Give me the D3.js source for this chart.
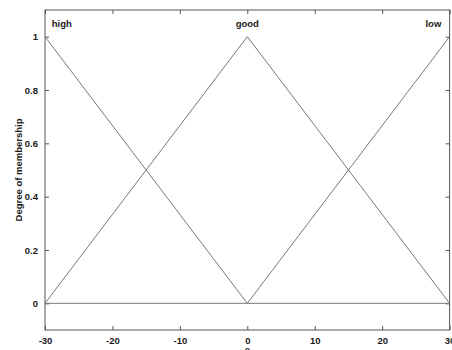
<!DOCTYPE html>
<html><head><meta charset="utf-8">
<script src="https://cdn.jsdelivr.net/npm/d3@7"></script>
<style>body{margin:0;background:#fff}svg{display:block}</style>
</head><body>
<script>
const xTicks = [-30, -20, -10, 0, 10, 20, 30];
const yTicks = [0, 0.2, 0.4, 0.6, 0.8, 1];
const setNames = ["high", "good", "low"];
const highX = [-30, 0, 30], highY = [1, 0, 0];
const goodX = [-30, 0, 30], goodY = [0, 1, 0];
const lowX = [-30, 0, 30], lowY = [0, 0, 1];
const labelX = [-27.5, 0, 27.6];
const xLabel = "e";
const yLabel = "Degree of membership";

const W = 452, H = 350;
const m = {l: 45, r: 2.4, t: 10, b: 20};
const svg = d3.select("body").append("svg").attr("width", W).attr("height", H);
const x = d3.scaleLinear().domain([-30, 30]).range([m.l, W - m.r]);
const y = d3.scaleLinear().domain([-0.1, 1.1]).range([H - m.b, m.t]);
const font = "Liberation Sans, Arial, sans-serif";
const axisCol = "#555";
const txtCol = "#1a1a1a";

const g = svg.append("g");
g.append("rect").attr("x", x(-30)).attr("y", y(1.1)).attr("width", x(30) - x(-30)).attr("height", y(-0.1) - y(1.1))
  .attr("fill", "none").attr("stroke", axisCol).attr("stroke-width", 1);

function styleAxis(sel){
  sel.select(".domain").remove();
  sel.selectAll(".tick line").attr("stroke", axisCol);
  sel.selectAll(".tick text").attr("font-family", font).attr("font-size", 9.5)
    .attr("font-weight", "bold").attr("fill", txtCol);
}
const fmt = d => String(d);
const xb = g.append("g").attr("transform", `translate(0,${y(-0.1)})`)
  .call(d3.axisBottom(x).tickValues(xTicks).tickSizeInner(-4).tickPadding(7).tickFormat(fmt));
styleAxis(xb);
const xt = g.append("g").attr("transform", `translate(0,${y(1.1)})`)
  .call(d3.axisTop(x).tickValues(xTicks).tickSizeInner(-4).tickFormat(""));
styleAxis(xt);
const yl = g.append("g").attr("transform", `translate(${x(-30)},0)`)
  .call(d3.axisLeft(y).tickValues(yTicks).tickSizeInner(-4).tickPadding(7).tickFormat(fmt));
styleAxis(yl);
const yr = g.append("g").attr("transform", `translate(${x(30)},0)`)
  .call(d3.axisRight(y).tickValues(yTicks).tickSizeInner(-4).tickFormat(""));
styleAxis(yr);

const series = [[highX, highY], [goodX, goodY], [lowX, lowY]];
const line = d3.line().x(d => x(d[0])).y(d => y(d[1]));
series.forEach(([xs, ys]) => {
  g.append("path").datum(xs.map((v, i) => [v, ys[i]]))
    .attr("d", line).attr("fill", "none").attr("stroke", "#777").attr("stroke-width", 1);
});

setNames.forEach((n, i) => {
  g.append("text").attr("x", x(labelX[i])).attr("y", y(1.036)).attr("text-anchor", "middle")
    .attr("font-family", font).attr("font-size", 9.5).attr("font-weight", "bold").attr("fill", txtCol).text(n);
});

g.append("text").attr("x", x(0)).attr("y", H + 3).attr("text-anchor", "middle")
  .attr("font-family", font).attr("font-size", 9.5).attr("font-weight", "bold").attr("fill", txtCol).text(xLabel);
g.append("text").attr("transform", `translate(22,${(y(-0.1) + y(1.1)) / 2}) rotate(-90)`).attr("text-anchor", "middle")
  .attr("font-family", font).attr("font-size", 9.5).attr("font-weight", "bold").attr("fill", txtCol).text(yLabel);
</script>
</body></html>
